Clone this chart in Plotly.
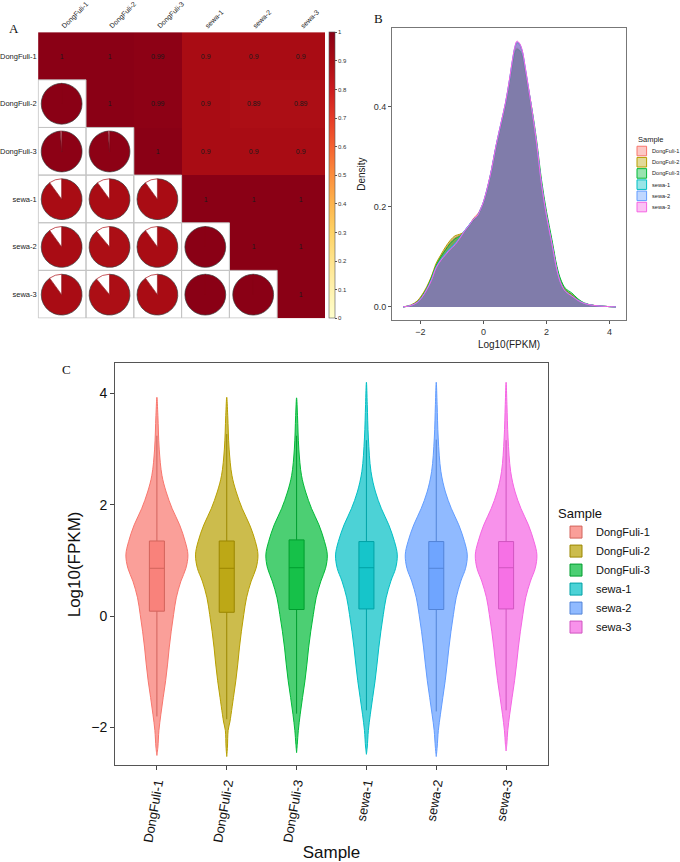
import plotly.graph_objects as go

# ---------------- data ----------------
SAMPLES = ["DongFuli-1", "DongFuli-2", "DongFuli-3", "sewa-1", "sewa-2", "sewa-3"]
HUES = ["#F8766D", "#B79F00", "#00BA38", "#00BFC4", "#619CFF", "#F564E3"]

# Panel A: correlation matrix
CORR = [
    [1.00, 1.00, 0.99, 0.90, 0.90, 0.90],
    [1.00, 1.00, 0.99, 0.90, 0.89, 0.89],
    [0.99, 0.99, 1.00, 0.90, 0.90, 0.90],
    [0.90, 0.90, 0.90, 1.00, 1.00, 1.00],
    [0.90, 0.89, 0.90, 1.00, 1.00, 1.00],
    [0.90, 0.89, 0.90, 1.00, 1.00, 1.00],
]
CBAR_TICKS = [0, 0.1, 0.2, 0.3, 0.4, 0.5, 0.6, 0.7, 0.8, 0.9, 1]

# Panel B: density curves of Log10(FPKM)
DENS_X = [-2.55, -2.3, -2.1, -1.95, -1.8, -1.65, -1.5, -1.35, -1.2, -1.05, -0.9, -0.75, -0.6, -0.45,
          -0.3, -0.2, -0.1, 0.0, 0.2, 0.4, 0.55, 0.7, 0.82, 0.93, 1.0, 1.06, 1.13, 1.22, 1.32, 1.43,
          1.56, 1.69, 1.84, 2.0, 2.17, 2.33, 2.45, 2.6, 2.8, 3.0, 3.2, 3.5, 3.9, 4.2]
DENS_DF1 = [0, 0.003, 0.011, 0.022, 0.038, 0.059, 0.084, 0.101, 0.116, 0.129, 0.138, 0.143, 0.150, 0.163,
            0.178, 0.184, 0.194, 0.208, 0.256, 0.319, 0.361, 0.403, 0.446, 0.489, 0.510, 0.516, 0.513, 0.501,
            0.469, 0.429, 0.379, 0.322, 0.246, 0.183, 0.129, 0.076, 0.050, 0.033, 0.024, 0.014, 0.007, 0.003, 0.001, 0]
DENS_DF2 = [0, 0.004, 0.012, 0.024, 0.040, 0.061, 0.087, 0.104, 0.120, 0.133, 0.142, 0.145, 0.150, 0.161,
            0.173, 0.178, 0.192, 0.207, 0.255, 0.318, 0.360, 0.402, 0.445, 0.487, 0.508, 0.514, 0.512, 0.500,
            0.468, 0.428, 0.378, 0.322, 0.246, 0.184, 0.130, 0.077, 0.051, 0.034, 0.025, 0.014, 0.007, 0.003, 0.001, 0]
DENS_DF3 = [0, 0.003, 0.010, 0.021, 0.037, 0.058, 0.083, 0.100, 0.114, 0.127, 0.136, 0.141, 0.149, 0.161,
            0.174, 0.180, 0.193, 0.207, 0.254, 0.317, 0.359, 0.401, 0.444, 0.486, 0.507, 0.513, 0.512, 0.502,
            0.472, 0.434, 0.386, 0.330, 0.254, 0.190, 0.135, 0.081, 0.055, 0.037, 0.028, 0.016, 0.008, 0.003, 0.001, 0]
DENS_SW1 = [0, 0.003, 0.009, 0.020, 0.035, 0.055, 0.080, 0.095, 0.107, 0.118, 0.127, 0.139, 0.152, 0.164,
            0.176, 0.181, 0.194, 0.209, 0.257, 0.321, 0.364, 0.406, 0.450, 0.494, 0.517, 0.526, 0.524, 0.511,
            0.477, 0.434, 0.382, 0.323, 0.245, 0.181, 0.126, 0.074, 0.048, 0.031, 0.022, 0.013, 0.007, 0.003, 0.001, 0]
DENS_SW2 = [0, 0.003, 0.009, 0.019, 0.035, 0.054, 0.079, 0.094, 0.106, 0.117, 0.126, 0.138, 0.152, 0.164,
            0.176, 0.181, 0.194, 0.210, 0.258, 0.322, 0.365, 0.407, 0.451, 0.496, 0.519, 0.528, 0.526, 0.513,
            0.479, 0.436, 0.383, 0.324, 0.245, 0.181, 0.126, 0.073, 0.047, 0.031, 0.022, 0.013, 0.007, 0.003, 0.001, 0]
DENS_SW3 = [0, 0.003, 0.009, 0.019, 0.034, 0.053, 0.078, 0.093, 0.104, 0.115, 0.124, 0.137, 0.151, 0.163,
            0.176, 0.181, 0.194, 0.210, 0.258, 0.322, 0.365, 0.408, 0.452, 0.497, 0.520, 0.530, 0.527, 0.514,
            0.480, 0.437, 0.384, 0.325, 0.246, 0.182, 0.127, 0.074, 0.048, 0.031, 0.022, 0.013, 0.007, 0.003, 0.001, 0]
DENS_SERIES = [DENS_DF1, DENS_DF2, DENS_DF3, DENS_SW1, DENS_SW2, DENS_SW3]

# Panel C: violin outlines (Log10 FPKM level, half width in category units)
VIO_Y_DF1 = [3.93, 3.6, 3.0, 2.53, 2.23, 1.93, 1.64, 1.34, 1.10, 0.86, 0.63, 0.33, 0.03, -0.27, -0.57, -0.86, -1.16, -1.46, -1.76, -2.05, -2.35, -2.5]
VIO_W_DF1 = [0, 0.014, 0.033, 0.072, 0.133, 0.219, 0.325, 0.405, 0.444, 0.415, 0.344, 0.277, 0.239, 0.205, 0.176, 0.153, 0.125, 0.090, 0.057, 0.029, 0.014, 0]
VIO_Y_DF2 = [3.93, 3.6, 3.0, 2.53, 2.23, 1.93, 1.64, 1.34, 1.10, 0.86, 0.63, 0.33, 0.03, -0.27, -0.57, -0.86, -1.16, -1.46, -1.76, -1.9, -2.05, -2.35, -2.52]
VIO_W_DF2 = [0, 0.014, 0.034, 0.074, 0.136, 0.222, 0.328, 0.410, 0.447, 0.420, 0.350, 0.283, 0.244, 0.210, 0.181, 0.158, 0.130, 0.096, 0.062, 0.045, 0.020, 0.010, 0]
VIO_Y_DF3 = [3.92, 3.6, 3.0, 2.53, 2.23, 1.93, 1.64, 1.34, 1.10, 0.86, 0.63, 0.33, 0.03, -0.27, -0.57, -0.86, -1.16, -1.46, -1.76, -2.05, -2.3, -2.45]
VIO_W_DF3 = [0, 0.013, 0.032, 0.070, 0.130, 0.215, 0.320, 0.400, 0.440, 0.415, 0.348, 0.280, 0.240, 0.203, 0.172, 0.148, 0.120, 0.085, 0.052, 0.025, 0.010, 0]
VIO_Y_SW1 = [4.2, 3.8, 3.2, 2.6, 2.23, 1.93, 1.64, 1.34, 1.10, 0.86, 0.63, 0.33, 0.03, -0.27, -0.57, -0.86, -1.16, -1.46, -1.76, -2.05, -2.35, -2.48]
VIO_W_SW1 = [0, 0.012, 0.028, 0.065, 0.130, 0.215, 0.320, 0.402, 0.442, 0.418, 0.350, 0.282, 0.242, 0.207, 0.177, 0.152, 0.124, 0.090, 0.056, 0.028, 0.012, 0]
VIO_Y_SW2 = [4.2, 3.8, 3.2, 2.6, 2.23, 1.93, 1.64, 1.34, 1.10, 0.86, 0.63, 0.33, 0.03, -0.27, -0.57, -0.86, -1.16, -1.46, -1.76, -2.05, -2.35, -2.52]
VIO_W_SW2 = [0, 0.012, 0.028, 0.066, 0.131, 0.217, 0.322, 0.404, 0.444, 0.420, 0.352, 0.285, 0.246, 0.211, 0.181, 0.156, 0.128, 0.094, 0.060, 0.030, 0.013, 0]
VIO_Y_SW3 = [4.2, 3.8, 3.2, 2.6, 2.23, 1.93, 1.64, 1.34, 1.10, 0.86, 0.63, 0.33, 0.03, -0.27, -0.57, -0.86, -1.16, -1.46, -1.76, -2.05, -2.3, -2.42]
VIO_W_SW3 = [0, 0.012, 0.028, 0.065, 0.129, 0.214, 0.319, 0.400, 0.441, 0.417, 0.349, 0.280, 0.240, 0.205, 0.175, 0.150, 0.121, 0.086, 0.052, 0.024, 0.010, 0]
VIO_Y = [VIO_Y_DF1, VIO_Y_DF2, VIO_Y_DF3, VIO_Y_SW1, VIO_Y_SW2, VIO_Y_SW3]
VIO_W = [VIO_W_DF1, VIO_W_DF2, VIO_W_DF3, VIO_W_SW1, VIO_W_SW2, VIO_W_SW3]

# Panel C: boxplot statistics
BOX_Q1 = [0.09, 0.07, 0.12, 0.13, 0.12, 0.13]
BOX_MED = [0.86, 0.86, 0.87, 0.87, 0.86, 0.87]
BOX_Q3 = [1.35, 1.35, 1.37, 1.34, 1.34, 1.34]
BOX_LO = [-1.80, -1.85, -1.75, -1.69, -1.71, -1.69]
BOX_HI = [3.24, 3.27, 3.24, 3.16, 3.17, 3.16]

# ---------------- helpers ----------------
W, H = 680, 862
FONT = "Liberation Sans, Arial, sans-serif"
SERIF = "Liberation Serif, Times New Roman, serif"

CORR_SCALE = [[0.0, "#FFFFCC"], [0.1, "#FFF2AE"], [0.2, "#FFE48C"], [0.3, "#FED264"],
              [0.4, "#FDB44C"], [0.5, "#FC8D3C"], [0.6, "#F5612F"], [0.7, "#E53A26"],
              [0.8, "#CA1B1E"], [0.9, "#A90C14"], [1.0, "#8A0015"]]


def hex_rgb(h):
    h = h.lstrip("#")
    return tuple(int(h[i:i + 2], 16) for i in (0, 2, 4))


def rgba(h, a, k=1.0):
    r, g, b = hex_rgb(h)
    return f"rgba({int(r * k)},{int(g * k)},{int(b * k)},{a})"


def scale_color(v):
    for (p0, c0), (p1, c1) in zip(CORR_SCALE[:-1], CORR_SCALE[1:]):
        if p0 <= v <= p1:
            t = (v - p0) / (p1 - p0) if p1 > p0 else 0
            a, b = hex_rgb(c0), hex_rgb(c1)
            return "rgb(%d,%d,%d)" % tuple(round(a[i] + (b[i] - a[i]) * t) for i in range(3))
    return CORR_SCALE[-1][1]


def fx(px):
    return px / W


def fy(py):
    return 1 - py / H


fig = go.Figure()

# ---------------- Panel A ----------------
A_X0, A_X1, A_Y0, A_Y1 = 37.7, 325.0, 28.3, 316.0
n = len(SAMPLES)
cw, ch = (A_X1 - A_X0) / n, (A_Y1 - A_Y0) / n

z_up = [[CORR[i][j] if j >= i else None for j in range(n)] for i in range(n)]
t_up = [[(f"{CORR[i][j]:g}" if j >= i else "") for j in range(n)] for i in range(n)]

fig.add_trace(go.Heatmap(
    z=z_up, x=SAMPLES, y=SAMPLES, text=t_up, texttemplate="%{text}",
    textfont=dict(size=7, color="#1a1a1a", family=FONT),
    colorscale=CORR_SCALE, zmin=0, zmax=1, xaxis="x", yaxis="y",
    hoverinfo="skip",
    colorbar=dict(x=fx(329), xanchor="left", y=fy((A_Y0 + A_Y1) / 2), yanchor="middle",
                  len=(A_Y1 - A_Y0) / H, lenmode="fraction", thickness=6, thicknessmode="pixels",
                  outlinecolor="#555", outlinewidth=0.6, xpad=0, ypad=0,
                  tickvals=CBAR_TICKS, ticks="outside", ticklen=2, tickcolor="#555",
                  tickfont=dict(size=6, color="#333", family=FONT)),
))

shapes = []
R = 20.5
for i in range(n):
    for j in range(i):
        r = CORR[i][j]
        col = scale_color(r)
        cx = A_X0 + (j + 0.5) * cw
        cy = A_Y0 + (i + 0.5) * ch
        fig.add_trace(go.Pie(
            values=[r, 1 - r], marker=dict(colors=[col, "white"], line=dict(color=["#3a3a3a", col], width=0.7)),
            sort=False, direction="clockwise", rotation=0, textinfo="none", hoverinfo="skip",
            showlegend=False, domain=dict(x=[fx(cx - R), fx(cx + R)], y=[fy(cy + R), fy(cy - R)]),
        ))
        shapes.append(dict(type="rect", xref="x", yref="y", x0=j - 0.5, x1=j + 0.5, y0=i - 0.5, y1=i + 0.5,
                           line=dict(color="#C4C4C4", width=1), layer="above"))

# ---------------- Panel B ----------------
for k, (name, hue) in enumerate(zip(SAMPLES, HUES)):
    fig.add_trace(go.Scatter(
        x=DENS_X, y=DENS_SERIES[k], mode="lines", name=name, line=dict(color=hue, width=1, shape="spline"),
        fill="tozeroy", fillcolor=rgba(hue, 0.4, 0.85), xaxis="x2", yaxis="y2", showlegend=False,
        hoverinfo="skip",
    ))

# manual legend for B
B_LX, B_LY0, B_LDY = 637.0, 147.7, 11.26
for k, (name, hue) in enumerate(zip(SAMPLES, HUES)):
    yc = B_LY0 + k * B_LDY
    shapes.append(dict(type="rect", xref="paper", yref="paper", x0=fx(B_LX), x1=fx(B_LX + 9.6),
                       y0=fy(yc + 4.8), y1=fy(yc - 4.8), fillcolor=rgba(hue, 0.4),
                       line=dict(color=hue, width=1)))

annotations = []
for k, name in enumerate(SAMPLES):
    annotations.append(dict(x=fx(B_LX + 12.5), y=fy(B_LY0 + k * B_LDY), xref="paper", yref="paper",
                            text=name, showarrow=False, xanchor="left", yanchor="middle",
                            font=dict(size=5.6, color="#222", family=FONT)))
annotations.append(dict(x=fx(B_LX - 1), y=fy(136.5), xref="paper", yref="paper", text="Sample",
                        showarrow=False, xanchor="left", yanchor="middle",
                        font=dict(size=7.5, color="#222", family=FONT)))

# ---------------- Panel C ----------------
for k, (name, hue) in enumerate(zip(SAMPLES, HUES)):
    ys, ws = VIO_Y[k], VIO_W[k]
    xs = [k - w for w in ws] + [k + w for w in reversed(ws)]
    yy = list(ys) + list(reversed(ys))
    fig.add_trace(go.Scatter(
        x=xs, y=yy, mode="lines", fill="toself", fillcolor=rgba(hue, 0.7),
        line=dict(color=hue, width=1, shape="spline"), xaxis="x3", yaxis="y3",
        showlegend=False, legendgroup=name, hoverinfo="skip",
    ))

for k, (name, hue) in enumerate(zip(SAMPLES, HUES)):
    fig.add_trace(go.Box(
        x=[k], q1=[BOX_Q1[k]], median=[BOX_MED[k]], q3=[BOX_Q3[k]],
        lowerfence=[BOX_LO[k]], upperfence=[BOX_HI[k]], name=name, legendgroup=name,
        fillcolor=rgba(hue, 0.7), line=dict(color=rgba(hue, 1, 0.85), width=1), width=0.215,
        whiskerwidth=0, xaxis="x4", yaxis="y4", hoverinfo="skip", boxpoints=False,
    ))

# panel letters
for letter, xp, yp in [("A", 14, 25), ("B", 378, 15), ("C", 66, 367)]:
    annotations.append(dict(x=fx(xp), y=fy(yp), xref="paper", yref="paper", text=letter, showarrow=False,
                            xanchor="center", yanchor="middle", font=dict(size=13, color="#111", family=SERIF)))

C_X0, C_X1, C_Y0, C_Y1 = 115, 548, 361, 765
C_XR = [-0.6, 5.6]
C_YR = [-2.68, 4.54]

fig.update_layout(
    width=W, height=H, autosize=False, margin=dict(l=0, r=0, t=0, b=0),
    paper_bgcolor="white", plot_bgcolor="rgba(0,0,0,0)",
    font=dict(family=FONT, color="#222"),
    shapes=shapes, annotations=annotations,
    xaxis=dict(domain=[fx(A_X0), fx(A_X1)], anchor="y", side="top", tickangle=-45, type="category",
               showgrid=False, zeroline=False, showline=False, ticks="",
               tickfont=dict(size=7, color="#222", family=FONT)),
    yaxis=dict(domain=[fy(A_Y1), fy(A_Y0)], anchor="x", autorange="reversed", type="category",
               showgrid=False, zeroline=False, showline=False, ticks="",
               tickfont=dict(size=7.5, color="#222", family=FONT)),
    xaxis2=dict(domain=[fx(392), fx(626)], anchor="y2", range=[-2.9, 4.52], tickvals=[-2, 0, 2, 4],
                showgrid=False, zeroline=False, showline=True, mirror=True, linecolor="#777", linewidth=1,
                ticks="outside", ticklen=3, tickcolor="#555", tickfont=dict(size=9, color="#333"),
                title=dict(text="Log10(FPKM)", font=dict(size=10, color="#222"), standoff=4)),
    yaxis2=dict(domain=[fy(317.7), fy(24)], anchor="x2", range=[-0.0265, 0.5565], tickvals=[0, 0.2, 0.4],
                tickformat=".1f", showgrid=False, zeroline=False, showline=True, mirror=True,
                linecolor="#777", linewidth=1, ticks="outside", ticklen=3, tickcolor="#555",
                tickfont=dict(size=9, color="#333"),
                title=dict(text="Density", font=dict(size=10, color="#222"), standoff=6)),
    xaxis3=dict(domain=[fx(C_X0), fx(C_X1)], anchor="y3", range=C_XR, tickvals=list(range(n)),
                ticktext=SAMPLES, tickangle=-80, showgrid=False, zeroline=False, showline=True,
                mirror=True, linecolor="#555", linewidth=1, ticks="outside", ticklen=4, tickcolor="#444",
                tickfont=dict(size=13, color="#111"),
                title=dict(text="Sample", font=dict(size=17, color="#111"), standoff=4)),
    yaxis3=dict(domain=[fy(C_Y1), fy(C_Y0)], anchor="x3", range=C_YR, tickvals=[-2, 0, 2, 4],
                showgrid=False, zeroline=False, showline=True, mirror=True, linecolor="#555", linewidth=1,
                ticks="outside", ticklen=4, tickcolor="#444", tickfont=dict(size=14, color="#111"),
                title=dict(text="Log10(FPKM)", font=dict(size=17, color="#111"), standoff=6)),
    xaxis4=dict(overlaying="x3", anchor="y4", range=C_XR, visible=False),
    yaxis4=dict(overlaying="y3", anchor="x4", range=C_YR, visible=False),
    legend=dict(x=fx(556), y=fy(499), xanchor="left", yanchor="top", bgcolor="rgba(0,0,0,0)",
                title=dict(text="Sample", font=dict(size=13, color="#111")),
                font=dict(size=11, color="#111"), tracegroupgap=0),
    showlegend=True,
)

fig.write_html("out.html", config={"displayModeBar": False},
               post_script="document.body.style.margin='0';document.body.style.padding='0';")
